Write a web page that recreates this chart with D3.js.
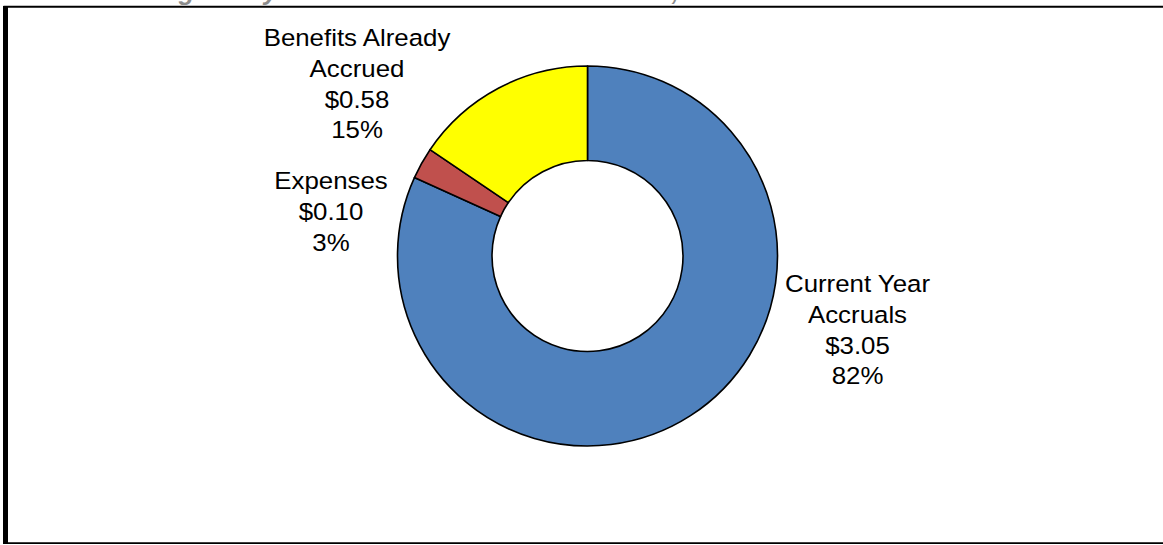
<!DOCTYPE html>
<html>
<head>
<meta charset="utf-8">
<script src="https://cdn.jsdelivr.net/npm/d3@7"></script>
<style>
  html, body { margin: 0; padding: 0; background: #ffffff; }
  svg { display: block; }
  text { font-family: "Liberation Sans", Arial, sans-serif; }
</style>
</head>
<body>
<svg id="chart" width="1163" height="545"></svg>
<script>
// Normal cost components, $ millions (clockwise from 12 o'clock)
const categories = ["Current Year Accruals", "Expenses", "Benefits Already Accrued"];
const labelLines = [["Current Year", "Accruals"], ["Expenses"], ["Benefits Already", "Accrued"]];
const values = [3.05, 0.10, 0.58];
const percentLabels = ["82%", "3%", "15%"];
const colors = ["#4F81BD", "#C0504D", "#FFFF00"];
const titleText = "Funding Policy Total Normal Cost Contribution, in Millions";

const W = 1163, H = 545;
const svg = d3.select("#chart");

// Frame
svg.append("line").attr("x1", 3.5).attr("x2", W).attr("y1", 6.8).attr("y2", 6.8)
  .attr("stroke", "#000").attr("stroke-width", 2);
svg.append("line").attr("x1", 5.5).attr("x2", 5.5).attr("y1", 6).attr("y2", 544)
  .attr("stroke", "#000").attr("stroke-width", 5);
svg.append("line").attr("x1", 3).attr("x2", W).attr("y1", 543.2).attr("y2", 543.2)
  .attr("stroke", "#000").attr("stroke-width", 1.7);

// Title sits above the frame; only its lowest strokes fall inside the page
svg.append("text")
  .attr("x", 92).attr("y", 0)
  .attr("font-size", 26).attr("font-weight", "bold").attr("font-style", "italic")
  .attr("fill", "#8c8c8c")
  .text(titleText);

// Doughnut
const cx = 587.5, cy = 256, rOuter = 190, rInner = 95.5;
const pie = d3.pie().sort(null).value(d => d)(values);
const arc = d3.arc().innerRadius(rInner).outerRadius(rOuter);

const g = svg.append("g").attr("transform", `translate(${cx},${cy})`);
g.selectAll("path.slice")
  .data(pie)
  .join("path")
  .attr("class", "slice")
  .attr("d", arc)
  .attr("fill", (d, i) => colors[i])
  .attr("stroke", "#000")
  .attr("stroke-width", 1.6)
  .attr("stroke-linejoin", "round");

// Labels: name lines, dollar value, share
const fmt = d3.format("$.2f");
const labelPos = [
  { x: 857.5, y: 292, anchor: "middle" },
  { x: 331, y: 189, anchor: "middle" },
  { x: 357, y: 46, anchor: "middle" }
];
const lineH = 30.8;
const fontSize = 23.5;
const sx = 1.1;

pie.forEach((d, i) => {
  const lines = labelLines[i].concat([fmt(values[i]), percentLabels[i]]);
  const p = labelPos[i];
  const lg = svg.append("g")
    .attr("transform", `translate(${p.x},${p.y}) scale(${sx},1)`);
  lg.selectAll("text")
    .data(lines)
    .join("text")
    .attr("x", 0)
    .attr("y", (t, k) => k * lineH)
    .attr("text-anchor", p.anchor)
    .attr("font-size", fontSize)
    .attr("fill", "#000")
    .text(t => t);
});
</script>
</body>
</html>
